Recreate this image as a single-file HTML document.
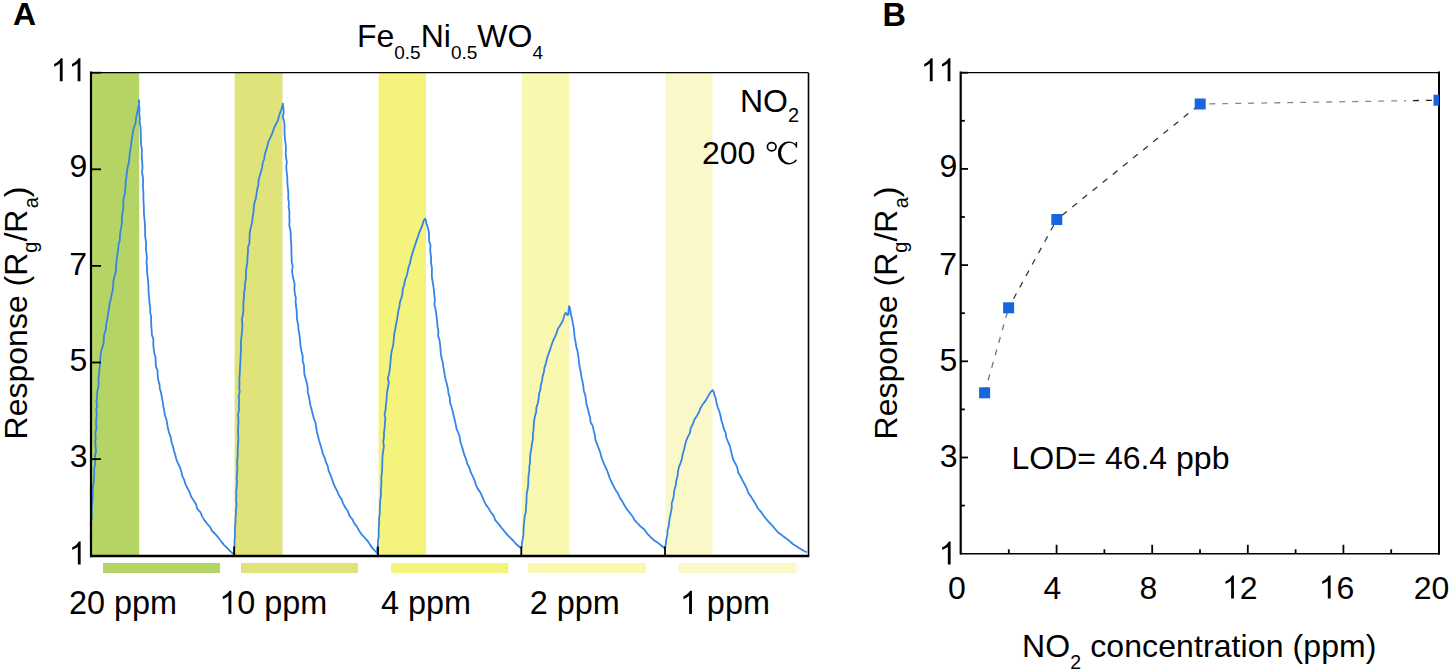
<!DOCTYPE html>
<html><head><meta charset="utf-8"><style>
html,body{margin:0;padding:0;background:#fff;width:1450px;height:672px;overflow:hidden}
svg{display:block;font-family:"Liberation Sans",sans-serif}
</style></head><body>
<svg width="1450" height="672" viewBox="0 0 1450 672">
<rect width="1450" height="672" fill="#fff"/>
<rect x="92.0" y="72.7" width="47.2" height="483.3" fill="#b4d565"/>
<rect x="234.6" y="72.7" width="47.9" height="483.3" fill="#e0e27a"/>
<rect x="378.6" y="72.7" width="47.4" height="483.3" fill="#f4f47c"/>
<rect x="521.8" y="72.7" width="47.5" height="483.3" fill="#f9f7b0"/>
<rect x="665.5" y="72.7" width="47.0" height="483.3" fill="#faf8c8"/>
<rect x="103.0" y="563" width="117.0" height="10" fill="#b4d565"/>
<rect x="241.0" y="563" width="117.0" height="10" fill="#e0e27a"/>
<rect x="391.0" y="563" width="117.4" height="10" fill="#f4f47c"/>
<rect x="528.2" y="563" width="117.4" height="10" fill="#f9f7b0"/>
<rect x="678.7" y="563" width="117.7" height="10" fill="#faf8c8"/>
<path d="M91.00 555.00 L91.18 553.51 L91.19 551.98 L90.92 550.48 L90.92 548.96 L90.93 547.44 L90.94 545.92 L90.95 544.41 L90.97 542.89 L90.99 541.38 L90.86 539.87 L90.74 538.35 L90.63 536.84 L90.72 535.33 L90.81 533.82 L90.91 532.31 L90.94 530.80 L90.97 529.29 L91.01 527.78 L90.87 526.27 L90.75 524.76 L90.62 523.24 L90.95 521.74 L91.29 520.25 L91.63 518.75 L91.66 517.25 L91.69 515.74 L91.72 514.23 L91.67 512.72 L91.63 511.21 L91.59 509.70 L91.73 508.19 L91.86 506.69 L92.00 505.19 L92.16 503.69 L92.32 502.19 L92.48 500.69 L92.51 499.18 L92.53 497.67 L92.56 496.17 L92.66 494.66 L92.77 493.16 L92.87 491.66 L92.86 490.14 L92.84 488.63 L92.82 487.12 L93.13 485.63 L93.44 484.14 L93.74 482.65 L93.80 481.14 L93.86 479.64 L93.92 478.13 L94.04 476.63 L94.15 475.12 L94.27 473.62 L94.19 472.10 L94.10 470.58 L94.02 469.07 L94.42 467.58 L94.83 466.09 L95.23 464.61 L95.17 463.09 L95.10 461.57 L95.03 460.06 L95.05 458.55 L95.07 457.04 L95.08 455.53 L95.39 454.03 L95.70 452.53 L96.00 451.03 L95.85 449.51 L95.70 447.99 L95.55 446.47 L95.46 444.96 L95.37 443.44 L95.28 441.92 L95.44 440.42 L95.59 438.91 L95.74 437.40 L95.60 435.88 L95.46 434.37 L95.31 432.85 L95.69 431.35 L96.07 429.84 L96.45 428.34 L96.34 426.83 L96.24 425.31 L96.14 423.79 L96.15 422.28 L96.16 420.77 L96.18 419.25 L96.41 417.75 L96.64 416.24 L96.87 414.74 L96.65 413.22 L96.43 411.70 L96.21 410.18 L96.48 408.67 L96.76 407.17 L97.04 405.67 L96.84 404.15 L96.65 402.63 L96.45 401.11 L96.66 399.60 L96.88 398.10 L97.09 396.60 L97.12 395.09 L97.15 393.57 L97.18 392.06 L97.53 390.57 L97.89 389.08 L98.26 387.59 L98.39 386.09 L98.53 384.59 L98.67 383.09 L98.57 381.57 L98.48 380.05 L98.40 378.53 L98.64 377.04 L98.89 375.55 L99.15 374.06 L99.19 372.55 L99.24 371.04 L99.30 369.53 L99.53 368.04 L99.77 366.55 L100.02 365.07 L100.07 363.56 L100.12 362.04 L100.18 360.53 L100.28 359.02 L100.39 357.52 L100.50 356.01 L100.70 354.51 L100.90 353.02 L101.11 351.53 L101.55 350.07 L101.99 348.61 L102.43 347.15 L102.85 345.69 L103.27 344.23 L103.69 342.77 L103.74 341.25 L103.79 339.73 L103.84 338.21 L104.02 336.71 L104.19 335.21 L104.37 333.71 L104.87 332.27 L105.37 330.82 L105.87 329.38 L105.97 327.87 L106.07 326.35 L106.17 324.84 L106.43 323.35 L106.69 321.86 L106.94 320.37 L107.23 318.89 L107.52 317.41 L107.80 315.93 L108.04 314.43 L108.28 312.94 L108.51 311.45 L108.77 309.96 L109.02 308.47 L109.28 306.99 L109.44 305.48 L109.60 303.98 L109.76 302.47 L110.22 301.02 L110.68 299.57 L111.14 298.12 L111.35 296.62 L111.55 295.12 L111.75 293.63 L112.14 292.16 L112.53 290.70 L112.91 289.23 L113.01 287.72 L113.11 286.20 L113.20 284.69 L113.30 283.18 L113.39 281.66 L113.47 280.15 L113.89 278.69 L114.30 277.23 L114.71 275.77 L115.11 274.30 L115.51 272.84 L115.91 271.37 L115.92 269.85 L115.93 268.33 L115.94 266.81 L116.10 265.31 L116.25 263.81 L116.41 262.31 L116.58 260.81 L116.75 259.31 L116.91 257.81 L117.12 256.32 L117.33 254.83 L117.53 253.33 L117.79 251.85 L118.06 250.36 L118.31 248.87 L118.41 247.37 L118.50 245.86 L118.59 244.35 L119.04 242.89 L119.48 241.42 L119.92 239.95 L119.92 238.43 L119.91 236.91 L119.91 235.40 L120.11 233.90 L120.32 232.41 L120.53 230.91 L120.83 229.43 L121.12 227.94 L121.42 226.46 L121.59 224.96 L121.76 223.46 L121.93 221.96 L121.92 220.44 L121.91 218.92 L121.91 217.41 L122.12 215.91 L122.34 214.42 L122.55 212.92 L122.75 211.43 L122.96 209.93 L123.16 208.43 L123.23 206.92 L123.30 205.41 L123.37 203.90 L123.37 202.38 L123.38 200.87 L123.38 199.35 L123.79 197.87 L124.20 196.40 L124.60 194.92 L124.80 193.43 L124.99 191.93 L125.18 190.43 L125.30 188.93 L125.42 187.42 L125.55 185.91 L125.59 184.40 L125.63 182.88 L125.68 181.37 L125.93 179.87 L126.18 178.38 L126.43 176.89 L126.57 175.39 L126.72 173.88 L126.87 172.38 L127.08 170.88 L127.30 169.38 L127.53 167.89 L127.88 166.41 L128.24 164.93 L128.59 163.46 L128.82 161.96 L129.05 160.47 L129.28 158.97 L129.40 157.46 L129.53 155.95 L129.66 154.44 L129.86 152.95 L130.07 151.45 L130.28 149.95 L130.52 148.45 L130.77 146.96 L131.01 145.47 L131.18 143.96 L131.35 142.45 L131.53 140.95 L131.77 139.45 L132.02 137.96 L132.27 136.47 L132.47 134.97 L132.67 133.48 L132.88 131.99 L133.21 130.53 L133.55 129.07 L133.89 127.62 L134.40 126.22 L134.92 124.82 L135.44 123.44 L135.61 121.99 L135.78 120.55 L135.96 119.12 L136.16 117.71 L136.36 116.31 L136.58 114.92 L136.90 113.57 L137.22 112.24 L137.52 110.91 L137.79 109.57 L138.04 108.25 L138.26 106.92 L138.61 105.62 L138.91 104.30 L139.18 102.97 L139.15 101.60 L139.00 100.10 L138.90 101.76 L139.05 103.25 L138.95 104.76 L139.16 106.24 L139.36 107.73 L139.56 109.22 L139.45 110.72 L139.35 112.23 L139.24 113.74 L139.45 115.22 L139.67 116.71 L139.88 118.20 L139.82 119.71 L139.75 121.21 L139.67 122.72 L139.97 124.20 L140.27 125.69 L140.57 127.17 L140.64 128.67 L140.70 130.17 L140.76 131.67 L140.78 133.17 L140.80 134.68 L140.82 136.18 L140.81 137.68 L140.81 139.19 L140.81 140.69 L140.93 142.19 L141.05 143.69 L141.17 145.18 L141.43 146.68 L141.67 148.17 L141.92 149.66 L141.85 151.17 L141.78 152.68 L141.70 154.19 L141.79 155.69 L141.87 157.20 L141.95 158.70 L142.06 160.20 L142.17 161.70 L142.28 163.20 L142.37 164.71 L142.45 166.21 L142.54 167.71 L142.36 169.23 L142.19 170.74 L142.01 172.26 L142.29 173.76 L142.56 175.25 L142.84 176.75 L142.94 178.25 L143.05 179.76 L143.16 181.26 L143.07 182.77 L142.98 184.29 L142.89 185.80 L143.01 187.30 L143.12 188.81 L143.23 190.31 L143.31 191.82 L143.39 193.33 L143.47 194.83 L143.45 196.34 L143.42 197.85 L143.40 199.36 L143.49 200.87 L143.58 202.38 L143.67 203.88 L143.74 205.39 L143.82 206.90 L143.89 208.41 L143.89 209.92 L143.90 211.43 L143.90 212.94 L144.03 214.44 L144.16 215.95 L144.29 217.45 L144.45 218.96 L144.60 220.46 L144.76 221.97 L144.80 223.48 L144.84 224.99 L144.88 226.50 L144.97 228.01 L145.05 229.51 L145.13 231.02 L145.13 232.53 L145.13 234.04 L145.12 235.56 L145.32 237.06 L145.52 238.56 L145.73 240.06 L145.87 241.57 L146.02 243.07 L146.17 244.58 L146.06 246.10 L145.94 247.61 L145.83 249.13 L146.05 250.63 L146.27 252.13 L146.49 253.63 L146.64 255.14 L146.78 256.64 L146.92 258.15 L146.78 259.67 L146.63 261.19 L146.48 262.71 L146.68 264.21 L146.88 265.71 L147.07 267.21 L147.04 268.73 L147.02 270.24 L146.99 271.76 L147.19 273.26 L147.38 274.76 L147.58 276.26 L147.74 277.76 L147.90 279.26 L148.06 280.77 L148.17 282.27 L148.29 283.78 L148.41 285.28 L148.44 286.79 L148.48 288.30 L148.51 289.81 L148.60 291.32 L148.69 292.83 L148.78 294.33 L148.95 295.83 L149.12 297.33 L149.30 298.83 L149.36 300.34 L149.43 301.85 L149.50 303.36 L149.75 304.85 L150.00 306.34 L150.26 307.84 L150.23 309.35 L150.21 310.87 L150.19 312.38 L150.51 313.87 L150.83 315.36 L151.15 316.84 L151.13 318.36 L151.12 319.87 L151.10 321.39 L151.16 322.90 L151.22 324.41 L151.29 325.92 L151.40 327.42 L151.52 328.93 L151.64 330.43 L151.74 331.94 L151.84 333.44 L151.94 334.95 L152.43 336.41 L152.93 337.87 L153.42 339.33 L153.37 340.86 L153.31 342.38 L153.26 343.91 L153.40 345.41 L153.54 346.91 L153.68 348.41 L153.89 349.90 L154.10 351.40 L154.32 352.89 L154.70 354.36 L155.09 355.83 L155.48 357.30 L155.55 358.81 L155.62 360.32 L155.70 361.83 L155.76 363.34 L155.83 364.86 L155.91 366.37 L156.46 367.81 L157.01 369.25 L157.57 370.69 L157.60 372.21 L157.63 373.73 L157.67 375.25 L157.84 376.75 L158.02 378.25 L158.20 379.75 L158.62 381.21 L159.04 382.66 L159.47 384.12 L159.60 385.63 L159.73 387.14 L159.86 388.64 L160.28 390.10 L160.71 391.55 L161.14 393.01 L161.39 394.50 L161.64 395.98 L161.89 397.47 L162.17 398.95 L162.45 400.43 L162.74 401.91 L162.93 403.41 L163.12 404.91 L163.32 406.41 L163.65 407.88 L163.98 409.36 L164.31 410.83 L164.52 412.33 L164.73 413.83 L164.95 415.33 L165.45 416.76 L165.96 418.20 L166.47 419.63 L166.72 421.12 L166.98 422.61 L167.24 424.10 L167.47 425.60 L167.71 427.10 L167.95 428.59 L168.35 430.06 L168.74 431.52 L169.14 432.97 L169.69 434.39 L170.24 435.81 L170.80 437.23 L170.99 438.74 L171.18 440.25 L171.38 441.76 L171.88 443.19 L172.39 444.62 L172.90 446.04 L173.23 447.52 L173.56 448.99 L173.90 450.46 L174.33 451.91 L174.77 453.35 L175.21 454.79 L175.57 456.26 L175.93 457.72 L176.30 459.19 L176.86 460.59 L177.43 461.99 L178.01 463.38 L178.67 464.74 L179.34 466.10 L180.02 467.45 L180.47 468.88 L180.93 470.31 L181.40 471.73 L181.72 473.21 L182.04 474.69 L182.38 476.17 L183.01 477.53 L183.65 478.89 L184.29 480.24 L184.73 481.68 L185.16 483.12 L185.61 484.55 L186.28 485.90 L186.95 487.24 L187.63 488.57 L188.33 489.89 L189.03 491.21 L189.75 492.52 L190.22 493.95 L190.69 495.38 L191.17 496.80 L192.00 498.06 L192.84 499.31 L193.68 500.56 L194.47 501.82 L195.27 503.08 L196.08 504.34 L196.43 505.84 L196.79 507.35 L197.16 508.85 L198.24 509.95 L199.33 511.04 L200.43 512.13 L200.97 513.53 L201.53 514.94 L202.10 516.34 L202.87 517.63 L203.65 518.90 L204.44 520.17 L205.34 521.38 L206.24 522.58 L207.15 523.77 L208.16 524.89 L209.17 526.01 L210.20 527.12 L210.87 528.48 L211.55 529.85 L212.25 531.21 L213.36 532.26 L214.49 533.29 L215.62 534.32 L216.57 535.49 L217.53 536.66 L218.49 537.82 L219.41 539.04 L220.33 540.25 L221.27 541.45 L222.21 542.66 L223.16 543.86 L224.13 545.06 L225.23 546.14 L226.34 547.21 L227.46 548.27 L228.52 549.40 L229.60 550.52 L230.69 551.63 L231.91 552.60 L233.14 553.58 L234.00 554.50 L233.94 552.93 L233.85 551.42 L234.01 549.93 L234.18 548.44 L234.35 546.94 L234.52 545.45 L234.51 543.94 L234.49 542.44 L234.48 540.94 L234.63 539.44 L234.78 537.94 L234.93 536.45 L234.90 534.94 L234.86 533.44 L234.82 531.93 L234.89 530.43 L234.95 528.93 L235.02 527.43 L235.14 525.93 L235.27 524.43 L235.40 522.93 L235.44 521.43 L235.47 519.92 L235.51 518.42 L235.65 516.92 L235.78 515.42 L235.92 513.92 L235.94 512.42 L235.95 510.91 L235.97 509.41 L236.18 507.91 L236.39 506.41 L236.60 504.91 L236.45 503.40 L236.31 501.89 L236.16 500.38 L236.21 498.87 L236.26 497.37 L236.31 495.87 L236.28 494.36 L236.25 492.85 L236.21 491.34 L236.37 489.84 L236.52 488.34 L236.67 486.84 L236.78 485.33 L236.89 483.83 L237.00 482.33 L236.91 480.82 L236.81 479.31 L236.71 477.80 L236.82 476.29 L236.93 474.79 L237.04 473.28 L237.16 471.78 L237.28 470.28 L237.40 468.77 L237.35 467.26 L237.31 465.75 L237.27 464.24 L237.27 462.74 L237.27 461.23 L237.27 459.72 L237.46 458.22 L237.65 456.71 L237.83 455.21 L237.78 453.70 L237.74 452.19 L237.69 450.68 L237.76 449.18 L237.82 447.67 L237.89 446.16 L238.01 444.66 L238.12 443.15 L238.24 441.64 L238.28 440.14 L238.31 438.63 L238.35 437.12 L238.24 435.61 L238.13 434.10 L238.02 432.59 L238.04 431.08 L238.06 429.57 L238.08 428.06 L238.20 426.55 L238.32 425.05 L238.44 423.54 L238.44 422.03 L238.44 420.52 L238.43 419.01 L238.30 417.50 L238.16 415.99 L238.03 414.48 L238.38 412.98 L238.74 411.48 L239.10 409.98 L239.02 408.47 L238.94 406.95 L238.85 405.44 L238.97 403.94 L239.08 402.43 L239.20 400.92 L239.05 399.41 L238.91 397.90 L238.76 396.38 L239.05 394.88 L239.34 393.38 L239.64 391.88 L239.50 390.37 L239.36 388.85 L239.22 387.34 L239.32 385.83 L239.41 384.33 L239.51 382.82 L239.43 381.31 L239.36 379.80 L239.28 378.28 L239.46 376.78 L239.63 375.28 L239.81 373.77 L239.86 372.27 L239.91 370.76 L239.96 369.25 L240.02 367.74 L240.08 366.24 L240.15 364.73 L240.27 363.23 L240.39 361.72 L240.52 360.22 L240.54 358.71 L240.57 357.20 L240.59 355.69 L240.75 354.19 L240.91 352.69 L241.06 351.19 L240.99 349.67 L240.91 348.16 L240.84 346.65 L240.86 345.14 L240.88 343.63 L240.90 342.12 L241.07 340.62 L241.24 339.12 L241.42 337.62 L241.56 336.12 L241.70 334.62 L241.85 333.11 L241.99 331.61 L242.13 330.11 L242.28 328.61 L242.32 327.10 L242.36 325.60 L242.40 324.09 L242.24 322.57 L242.07 321.05 L241.90 319.53 L242.21 318.04 L242.51 316.55 L242.82 315.06 L243.03 313.56 L243.23 312.07 L243.44 310.57 L243.40 309.06 L243.36 307.55 L243.33 306.03 L243.37 304.53 L243.42 303.02 L243.47 301.51 L243.67 300.02 L243.86 298.52 L244.05 297.03 L244.09 295.52 L244.12 294.01 L244.16 292.50 L244.39 291.01 L244.62 289.52 L244.86 288.03 L244.92 286.52 L244.98 285.02 L245.04 283.51 L245.31 282.02 L245.58 280.54 L245.85 279.05 L245.90 277.54 L245.94 276.04 L245.99 274.53 L246.01 273.02 L246.03 271.51 L246.05 270.00 L246.33 268.51 L246.60 267.03 L246.89 265.55 L247.07 264.05 L247.25 262.56 L247.44 261.06 L247.45 259.55 L247.46 258.04 L247.47 256.53 L247.64 255.03 L247.82 253.54 L248.00 252.04 L247.98 250.53 L247.97 249.01 L247.95 247.49 L248.45 246.04 L248.94 244.58 L249.44 243.12 L249.47 241.61 L249.51 240.10 L249.54 238.59 L249.58 237.07 L249.62 235.56 L249.66 234.05 L249.89 232.56 L250.12 231.07 L250.35 229.58 L250.71 228.11 L251.06 226.64 L251.42 225.17 L251.73 223.69 L252.03 222.22 L252.34 220.74 L252.47 219.24 L252.61 217.74 L252.74 216.24 L253.02 214.76 L253.30 213.28 L253.58 211.80 L253.66 210.28 L253.74 208.77 L253.81 207.26 L254.03 205.77 L254.24 204.28 L254.46 202.79 L254.93 201.34 L255.40 199.89 L255.87 198.44 L256.08 196.95 L256.30 195.46 L256.52 193.96 L256.72 192.47 L256.94 190.98 L257.15 189.49 L257.55 188.03 L257.95 186.57 L258.36 185.11 L258.42 183.59 L258.48 182.07 L258.55 180.54 L258.89 179.07 L259.24 177.61 L259.60 176.14 L260.04 174.69 L260.50 173.25 L260.95 171.81 L261.36 170.36 L261.76 168.91 L262.18 167.46 L262.34 165.96 L262.51 164.45 L262.69 162.95 L263.21 161.53 L263.74 160.11 L264.28 158.70 L264.45 157.19 L264.62 155.68 L264.80 154.17 L265.30 152.75 L265.81 151.33 L266.32 149.92 L266.71 148.47 L267.11 147.02 L267.52 145.57 L267.85 144.10 L268.19 142.63 L268.55 141.16 L269.22 139.80 L269.90 138.44 L270.59 137.10 L271.18 135.71 L271.79 134.33 L272.40 132.96 L272.87 131.53 L273.35 130.09 L273.84 128.66 L274.44 127.28 L275.06 125.91 L275.68 124.53 L276.42 123.21 L277.16 121.90 L277.90 120.58 L278.25 119.09 L278.59 117.61 L278.90 116.14 L279.42 114.75 L279.91 113.36 L280.37 111.97 L280.91 110.61 L281.41 109.25 L281.88 107.87 L282.17 106.45 L282.72 105.08 L282.90 103.60 L282.96 105.23 L283.20 106.71 L283.42 108.20 L283.50 109.70 L283.57 111.20 L283.64 112.69 L283.39 114.21 L283.14 115.73 L282.89 117.25 L283.33 118.73 L283.77 120.20 L284.21 121.68 L284.32 123.18 L284.43 124.67 L284.53 126.17 L284.52 127.68 L284.50 129.18 L284.48 130.69 L284.54 132.19 L284.59 133.69 L284.65 135.20 L284.78 136.69 L284.90 138.19 L285.03 139.69 L285.23 141.18 L285.43 142.68 L285.63 144.17 L285.73 145.68 L285.84 147.18 L285.95 148.68 L285.86 150.19 L285.77 151.70 L285.67 153.21 L285.82 154.71 L285.97 156.21 L286.11 157.71 L286.35 159.21 L286.59 160.70 L286.83 162.20 L286.63 163.72 L286.43 165.23 L286.23 166.75 L286.35 168.26 L286.47 169.76 L286.59 171.26 L286.77 172.76 L286.95 174.26 L287.13 175.76 L287.21 177.26 L287.29 178.77 L287.37 180.27 L287.40 181.78 L287.43 183.29 L287.47 184.80 L287.64 186.30 L287.81 187.80 L287.98 189.30 L288.13 190.81 L288.27 192.31 L288.42 193.81 L288.33 195.33 L288.25 196.84 L288.16 198.36 L288.42 199.85 L288.68 201.35 L288.94 202.85 L288.84 204.37 L288.74 205.88 L288.64 207.40 L288.90 208.90 L289.17 210.39 L289.44 211.89 L289.39 213.40 L289.34 214.92 L289.29 216.43 L289.38 217.94 L289.47 219.45 L289.56 220.95 L289.46 222.47 L289.36 223.99 L289.25 225.51 L289.63 227.00 L290.00 228.49 L290.38 229.98 L290.51 231.49 L290.63 232.99 L290.76 234.50 L290.78 236.01 L290.80 237.52 L290.82 239.03 L290.96 240.54 L291.10 242.04 L291.25 243.55 L291.30 245.06 L291.34 246.57 L291.39 248.08 L291.39 249.59 L291.39 251.11 L291.40 252.62 L291.47 254.13 L291.54 255.64 L291.61 257.15 L291.63 258.66 L291.65 260.17 L291.67 261.69 L292.02 263.18 L292.37 264.67 L292.72 266.15 L292.50 267.69 L292.28 269.22 L292.06 270.75 L292.24 272.25 L292.43 273.75 L292.61 275.26 L292.95 276.74 L293.29 278.23 L293.63 279.72 L293.97 281.21 L294.30 282.70 L294.64 284.18 L294.55 285.71 L294.46 287.23 L294.37 288.75 L294.49 290.26 L294.61 291.77 L294.73 293.27 L295.11 294.75 L295.48 296.24 L295.86 297.72 L295.77 299.24 L295.68 300.77 L295.59 302.30 L295.76 303.80 L295.94 305.30 L296.12 306.80 L296.33 308.29 L296.54 309.79 L296.76 311.29 L296.78 312.80 L296.79 314.32 L296.82 315.84 L296.94 317.34 L297.07 318.85 L297.20 320.35 L297.52 321.84 L297.84 323.32 L298.16 324.81 L298.26 326.31 L298.37 327.82 L298.47 329.33 L298.74 330.82 L299.01 332.31 L299.29 333.80 L299.49 335.29 L299.69 336.79 L299.89 338.29 L300.00 339.80 L300.11 341.30 L300.22 342.81 L300.38 344.32 L300.53 345.82 L300.69 347.32 L301.01 348.81 L301.32 350.29 L301.64 351.77 L302.02 353.24 L302.40 354.71 L302.78 356.18 L302.72 357.72 L302.66 359.25 L302.61 360.79 L303.05 362.25 L303.50 363.71 L303.95 365.17 L304.01 366.69 L304.08 368.21 L304.15 369.73 L304.23 371.24 L304.31 372.76 L304.39 374.28 L304.82 375.74 L305.25 377.21 L305.68 378.67 L306.05 380.14 L306.43 381.60 L306.80 383.07 L307.10 384.56 L307.39 386.04 L307.69 387.52 L307.70 389.06 L307.72 390.59 L307.74 392.13 L308.14 393.59 L308.54 395.06 L308.95 396.52 L309.18 398.02 L309.42 399.51 L309.66 401.01 L309.93 402.50 L310.19 403.99 L310.46 405.48 L310.86 406.94 L311.27 408.40 L311.69 409.86 L312.03 411.34 L312.38 412.81 L312.73 414.28 L313.13 415.74 L313.52 417.20 L313.92 418.66 L314.47 420.09 L315.03 421.51 L315.59 422.93 L315.79 424.43 L315.99 425.93 L316.20 427.43 L316.43 428.93 L316.66 430.43 L316.90 431.93 L317.29 433.39 L317.68 434.84 L318.08 436.30 L318.42 437.77 L318.76 439.24 L319.11 440.71 L319.57 442.14 L320.04 443.58 L320.50 445.01 L320.90 446.46 L321.30 447.92 L321.71 449.37 L322.09 450.82 L322.47 452.28 L322.86 453.73 L323.47 455.12 L324.09 456.50 L324.72 457.87 L325.13 459.32 L325.55 460.76 L325.97 462.20 L326.59 463.57 L327.20 464.95 L327.83 466.31 L328.09 467.81 L328.36 469.31 L328.63 470.80 L329.24 472.18 L329.86 473.55 L330.48 474.91 L330.98 476.32 L331.49 477.73 L332.00 479.14 L332.47 480.57 L332.94 481.99 L333.41 483.41 L334.04 484.78 L334.67 486.14 L335.31 487.49 L336.01 488.81 L336.72 490.13 L337.44 491.45 L337.99 492.84 L338.54 494.23 L339.10 495.62 L339.94 496.88 L340.79 498.13 L341.65 499.37 L342.15 500.79 L342.65 502.21 L343.17 503.62 L343.88 504.94 L344.60 506.25 L345.33 507.55 L346.20 508.78 L347.07 510.01 L347.95 511.23 L348.42 512.68 L348.91 514.13 L349.40 515.57 L350.34 516.76 L351.28 517.95 L352.23 519.12 L352.89 520.47 L353.57 521.82 L354.25 523.17 L355.15 524.38 L356.06 525.58 L356.98 526.78 L357.69 528.11 L358.42 529.44 L359.15 530.76 L359.99 532.02 L360.83 533.28 L361.69 534.53 L362.75 535.63 L363.82 536.73 L364.89 537.82 L365.86 538.98 L366.84 540.15 L367.83 541.30 L368.66 542.58 L369.50 543.86 L370.35 545.14 L371.25 546.38 L372.15 547.62 L373.07 548.86 L374.16 549.95 L375.26 551.03 L376.37 552.10 L377.32 553.33 L377.80 554.40 L377.69 552.78 L377.28 551.26 L377.04 549.75 L377.34 548.27 L377.63 546.79 L377.93 545.31 L377.94 543.81 L377.95 542.31 L377.96 540.81 L378.21 539.33 L378.46 537.84 L378.71 536.35 L378.68 534.85 L378.66 533.35 L378.63 531.85 L378.67 530.35 L378.71 528.85 L378.75 527.35 L378.90 525.85 L379.06 524.36 L379.21 522.86 L379.17 521.36 L379.14 519.85 L379.10 518.34 L379.32 516.85 L379.54 515.36 L379.76 513.86 L379.76 512.36 L379.77 510.85 L379.78 509.34 L379.88 507.84 L379.98 506.34 L380.09 504.84 L380.13 503.33 L380.17 501.83 L380.20 500.32 L380.44 498.82 L380.68 497.33 L380.91 495.83 L380.88 494.32 L380.85 492.81 L380.82 491.30 L380.96 489.80 L381.10 488.29 L381.24 486.79 L381.30 485.28 L381.37 483.77 L381.44 482.27 L381.39 480.75 L381.34 479.24 L381.29 477.73 L381.50 476.22 L381.71 474.72 L381.93 473.22 L381.98 471.71 L382.04 470.20 L382.10 468.69 L382.17 467.19 L382.25 465.68 L382.32 464.17 L382.33 462.66 L382.35 461.14 L382.36 459.63 L382.44 458.12 L382.52 456.61 L382.60 455.10 L382.81 453.60 L383.01 452.10 L383.22 450.60 L383.45 449.10 L383.68 447.59 L383.91 446.09 L383.70 444.57 L383.49 443.04 L383.28 441.51 L383.51 440.01 L383.74 438.51 L383.97 437.01 L383.98 435.50 L383.99 433.98 L384.00 432.47 L384.22 430.97 L384.43 429.47 L384.65 427.97 L384.72 426.45 L384.79 424.94 L384.86 423.43 L385.03 421.93 L385.21 420.43 L385.38 418.92 L385.11 417.39 L384.84 415.85 L384.57 414.31 L384.90 412.82 L385.24 411.33 L385.58 409.84 L385.66 408.33 L385.75 406.82 L385.84 405.31 L386.05 403.82 L386.27 402.32 L386.48 400.82 L386.55 399.31 L386.63 397.80 L386.70 396.29 L386.85 394.78 L386.99 393.28 L387.14 391.78 L387.42 390.29 L387.70 388.80 L387.97 387.31 L388.24 385.82 L388.52 384.33 L388.79 382.84 L388.48 381.29 L388.16 379.74 L387.85 378.19 L388.26 376.71 L388.68 375.24 L389.09 373.76 L389.32 372.27 L389.55 370.78 L389.79 369.29 L389.93 367.79 L390.08 366.29 L390.23 364.78 L390.38 363.28 L390.53 361.78 L390.68 360.28 L390.77 358.77 L390.86 357.26 L390.95 355.76 L391.19 354.27 L391.43 352.78 L391.67 351.29 L392.04 349.82 L392.41 348.35 L392.79 346.88 L393.04 345.39 L393.29 343.91 L393.54 342.42 L393.66 340.92 L393.79 339.42 L393.92 337.91 L394.06 336.41 L394.20 334.91 L394.34 333.41 L394.67 331.94 L395.00 330.46 L395.34 328.99 L395.55 327.50 L395.77 326.02 L395.99 324.53 L396.32 323.06 L396.66 321.59 L397.00 320.12 L397.22 318.63 L397.45 317.15 L397.68 315.66 L397.88 314.17 L398.09 312.67 L398.29 311.18 L398.66 309.72 L399.03 308.26 L399.40 306.80 L399.56 305.30 L399.72 303.80 L399.89 302.30 L400.39 300.87 L400.90 299.43 L401.41 298.01 L401.76 296.54 L402.11 295.08 L402.47 293.62 L402.57 292.11 L402.67 290.59 L402.77 289.07 L403.27 287.64 L403.76 286.21 L404.27 284.78 L404.48 283.29 L404.69 281.79 L404.91 280.30 L405.48 278.89 L406.04 277.48 L406.61 276.07 L406.97 274.61 L407.33 273.15 L407.69 271.69 L407.97 270.21 L408.24 268.72 L408.53 267.24 L409.04 265.82 L409.56 264.40 L410.09 262.99 L410.36 261.50 L410.63 260.01 L410.92 258.52 L411.32 257.07 L411.72 255.62 L412.13 254.17 L412.58 252.73 L413.02 251.29 L413.48 249.85 L413.96 248.42 L414.46 246.99 L414.96 245.57 L415.40 244.12 L415.85 242.68 L416.30 241.24 L416.83 239.82 L417.35 238.40 L417.88 236.99 L418.30 235.53 L418.72 234.08 L419.15 232.62 L419.78 231.24 L420.42 229.86 L421.06 228.48 L421.60 227.07 L422.15 225.65 L422.70 224.24 L423.09 222.77 L423.49 221.30 L424.03 219.88 L425.10 218.80 L425.90 220.21 L426.02 221.74 L426.36 223.20 L426.84 224.63 L427.29 226.07 L427.72 227.51 L428.11 228.96 L428.49 230.42 L428.84 231.88 L428.91 233.39 L428.96 234.90 L429.00 236.40 L429.05 237.90 L429.09 239.40 L429.11 240.90 L429.59 242.36 L430.06 243.83 L430.52 245.30 L430.40 246.82 L430.28 248.34 L430.15 249.86 L430.33 251.35 L430.51 252.85 L430.69 254.35 L430.85 255.85 L431.00 257.35 L431.16 258.85 L431.13 260.37 L431.11 261.89 L431.08 263.40 L431.37 264.90 L431.66 266.39 L431.96 267.89 L431.92 269.41 L431.87 270.93 L431.84 272.46 L431.86 273.97 L431.88 275.49 L431.90 277.01 L432.14 278.51 L432.38 280.01 L432.62 281.51 L432.86 283.02 L433.10 284.52 L433.34 286.02 L433.57 287.52 L433.79 289.02 L434.02 290.52 L434.12 292.03 L434.21 293.55 L434.31 295.06 L434.51 296.56 L434.72 298.06 L434.92 299.56 L434.74 301.10 L434.55 302.64 L434.36 304.18 L434.71 305.67 L435.05 307.15 L435.40 308.64 L435.64 310.13 L435.89 311.62 L436.14 313.11 L436.34 314.61 L436.53 316.11 L436.74 317.60 L436.89 319.10 L437.05 320.61 L437.21 322.11 L437.32 323.61 L437.43 325.12 L437.55 326.62 L437.83 328.10 L438.12 329.59 L438.41 331.07 L438.31 332.60 L438.22 334.13 L438.13 335.66 L438.57 337.12 L439.02 338.58 L439.47 340.04 L439.68 341.53 L439.90 343.02 L440.12 344.51 L440.23 346.01 L440.35 347.52 L440.46 349.02 L440.58 350.53 L440.69 352.03 L440.81 353.54 L441.06 355.02 L441.31 356.51 L441.56 357.99 L441.98 359.45 L442.40 360.90 L442.83 362.36 L443.00 363.85 L443.18 365.35 L443.36 366.84 L443.63 368.32 L443.90 369.81 L444.18 371.29 L444.41 372.77 L444.64 374.26 L444.87 375.75 L445.17 377.23 L445.48 378.70 L445.79 380.18 L446.19 381.63 L446.59 383.09 L447.00 384.55 L447.32 386.02 L447.65 387.49 L447.97 388.96 L448.13 390.47 L448.30 391.97 L448.46 393.48 L448.91 394.93 L449.35 396.38 L449.80 397.82 L449.87 399.35 L449.95 400.88 L450.02 402.42 L450.48 403.86 L450.94 405.31 L451.41 406.76 L451.85 408.21 L452.29 409.66 L452.74 411.11 L453.02 412.60 L453.30 414.09 L453.59 415.58 L453.97 417.05 L454.35 418.52 L454.73 419.99 L455.06 421.47 L455.39 422.95 L455.73 424.43 L456.01 425.93 L456.29 427.43 L456.57 428.93 L457.19 430.34 L457.82 431.74 L458.45 433.15 L458.90 434.60 L459.34 436.05 L459.80 437.50 L460.00 439.03 L460.21 440.55 L460.43 442.07 L460.91 443.51 L461.40 444.95 L461.89 446.39 L462.31 447.86 L462.73 449.32 L463.15 450.78 L463.59 452.23 L464.03 453.69 L464.48 455.14 L465.02 456.56 L465.57 457.98 L466.12 459.39 L466.53 460.85 L466.94 462.32 L467.36 463.78 L468.04 465.14 L468.72 466.51 L469.41 467.86 L469.86 469.31 L470.31 470.76 L470.77 472.20 L471.41 473.57 L472.06 474.94 L472.71 476.30 L473.32 477.68 L473.93 479.06 L474.55 480.43 L474.99 481.88 L475.44 483.33 L475.90 484.77 L476.53 486.14 L477.17 487.51 L477.81 488.87 L478.69 490.12 L479.57 491.36 L480.46 492.59 L481.05 493.97 L481.66 495.34 L482.28 496.71 L482.85 498.10 L483.43 499.49 L484.02 500.87 L484.68 502.23 L485.34 503.57 L486.02 504.91 L486.92 506.12 L487.83 507.33 L488.75 508.52 L489.49 509.83 L490.24 511.12 L491.00 512.42 L491.91 513.61 L492.83 514.80 L493.76 515.98 L494.27 517.44 L494.80 518.90 L495.34 520.36 L496.37 521.47 L497.42 522.57 L498.47 523.66 L499.34 524.89 L500.22 526.11 L501.11 527.33 L502.06 528.50 L503.03 529.66 L504.00 530.81 L504.95 531.99 L505.90 533.17 L506.87 534.33 L507.90 535.45 L508.94 536.56 L509.98 537.66 L511.09 538.72 L512.20 539.76 L513.33 540.79 L514.32 541.96 L515.33 543.12 L516.35 544.27 L517.50 545.29 L518.67 546.30 L519.86 547.28 L521.30 547.80 L521.77 546.30 L521.75 544.78 L521.94 543.28 L522.22 541.79 L522.50 540.30 L522.78 538.81 L523.00 537.32 L523.22 535.82 L523.44 534.32 L523.48 532.81 L523.52 531.29 L523.56 529.77 L523.62 528.26 L523.69 526.74 L523.75 525.23 L523.96 523.73 L524.16 522.23 L524.36 520.73 L524.47 519.21 L524.57 517.70 L524.68 516.19 L525.06 514.70 L525.44 513.22 L525.82 511.73 L525.85 510.21 L525.89 508.69 L525.93 507.17 L526.11 505.67 L526.28 504.16 L526.45 502.65 L526.49 501.13 L526.54 499.61 L526.58 498.09 L526.63 496.57 L526.68 495.06 L526.73 493.54 L527.04 492.04 L527.35 490.54 L527.66 489.05 L527.84 487.54 L528.03 486.03 L528.21 484.53 L528.24 483.00 L528.28 481.48 L528.31 479.96 L528.39 478.44 L528.47 476.93 L528.55 475.41 L528.81 473.91 L529.06 472.41 L529.31 470.91 L529.31 469.38 L529.32 467.86 L529.32 466.33 L529.58 464.83 L529.85 463.33 L530.11 461.83 L530.12 460.31 L530.12 458.78 L530.13 457.26 L530.26 455.74 L530.40 454.23 L530.53 452.72 L530.85 451.23 L531.17 449.73 L531.48 448.24 L531.63 446.73 L531.78 445.22 L531.93 443.71 L532.26 442.22 L532.59 440.73 L532.92 439.25 L532.89 437.72 L532.85 436.18 L532.82 434.65 L533.04 433.15 L533.26 431.65 L533.48 430.15 L533.56 428.63 L533.65 427.11 L533.73 425.59 L533.86 424.08 L534.00 422.57 L534.14 421.06 L534.36 419.56 L534.58 418.06 L534.81 416.56 L535.25 415.09 L535.70 413.63 L536.15 412.16 L536.22 410.64 L536.29 409.12 L536.37 407.60 L536.84 406.14 L537.31 404.68 L537.79 403.23 L538.07 401.74 L538.36 400.25 L538.65 398.77 L538.74 397.25 L538.85 395.73 L538.95 394.21 L539.42 392.76 L539.89 391.31 L540.36 389.86 L540.51 388.34 L540.67 386.83 L540.82 385.32 L541.21 383.86 L541.61 382.39 L542.01 380.93 L542.19 379.42 L542.38 377.91 L542.57 376.41 L543.02 374.95 L543.47 373.51 L543.93 372.06 L544.10 370.54 L544.27 369.03 L544.45 367.51 L544.97 366.08 L545.50 364.65 L546.04 363.23 L546.33 361.74 L546.63 360.25 L546.94 358.76 L547.39 357.32 L547.85 355.87 L548.32 354.43 L548.85 353.01 L549.38 351.59 L549.92 350.17 L550.36 348.72 L550.81 347.27 L551.27 345.82 L551.76 344.39 L552.27 342.95 L552.79 341.52 L553.41 340.13 L554.06 338.75 L554.71 337.37 L555.31 335.97 L555.92 334.57 L556.55 333.18 L556.98 331.70 L557.44 330.21 L557.91 328.73 L558.76 327.43 L559.63 326.14 L560.52 324.86 L561.26 323.50 L562.00 322.13 L562.73 320.74 L563.27 319.25 L563.72 317.71 L564.08 316.15 L564.62 314.78 L565.10 313.69 L565.55 313.08 L565.85 312.86 L566.40 313.24 L566.95 313.87 L567.10 314.64 L567.44 315.15 L568.22 314.78 L568.49 313.28 L568.62 310.55 L569.00 306.20 L569.86 307.74 L570.03 309.21 L570.42 310.64 L570.61 312.11 L570.79 313.59 L570.98 315.06 L571.39 316.49 L571.81 317.93 L572.23 319.37 L572.43 320.84 L572.63 322.32 L572.83 323.80 L573.16 325.26 L573.49 326.72 L573.82 328.18 L573.95 329.67 L574.08 331.17 L574.21 332.66 L574.33 334.16 L574.45 335.66 L574.57 337.16 L574.90 338.63 L575.22 340.10 L575.55 341.57 L575.72 343.07 L575.90 344.56 L576.08 346.06 L576.52 347.51 L576.95 348.97 L577.38 350.43 L577.62 351.92 L577.85 353.41 L578.08 354.90 L578.29 356.40 L578.50 357.89 L578.71 359.39 L578.86 360.90 L579.01 362.41 L579.16 363.92 L579.44 365.41 L579.71 366.90 L579.99 368.39 L580.29 369.87 L580.59 371.36 L580.89 372.85 L581.09 374.35 L581.29 375.85 L581.50 377.36 L581.85 378.84 L582.20 380.32 L582.55 381.80 L582.81 383.29 L583.08 384.79 L583.35 386.28 L583.50 387.80 L583.66 389.31 L583.82 390.83 L584.30 392.29 L584.78 393.74 L585.26 395.19 L585.49 396.70 L585.72 398.20 L585.95 399.71 L586.12 401.22 L586.30 402.74 L586.48 404.26 L586.95 405.71 L587.42 407.16 L587.90 408.62 L588.17 410.11 L588.45 411.61 L588.73 413.10 L589.20 414.55 L589.68 416.00 L590.16 417.45 L590.27 418.99 L590.38 420.53 L590.50 422.06 L591.27 423.44 L592.06 424.80 L592.84 426.17 L593.12 427.66 L593.40 429.16 L593.69 430.65 L594.08 432.12 L594.47 433.59 L594.87 435.05 L595.03 436.58 L595.19 438.12 L595.36 439.65 L595.91 441.07 L596.47 442.49 L597.03 443.91 L597.54 445.34 L598.05 446.77 L598.57 448.19 L599.13 449.61 L599.70 451.01 L600.28 452.42 L600.61 453.90 L600.94 455.39 L601.28 456.87 L601.81 458.29 L602.35 459.71 L602.89 461.12 L603.49 462.51 L604.10 463.89 L604.71 465.28 L605.33 466.65 L605.96 468.02 L606.59 469.39 L607.13 470.80 L607.67 472.20 L608.22 473.60 L608.69 475.04 L609.17 476.47 L609.66 477.90 L610.27 479.27 L610.88 480.64 L611.51 482.00 L612.17 483.35 L612.84 484.69 L613.53 486.03 L614.22 487.36 L614.91 488.68 L615.62 490.00 L616.46 491.25 L617.31 492.49 L618.16 493.73 L618.72 495.12 L619.30 496.51 L619.88 497.89 L620.73 499.13 L621.58 500.36 L622.45 501.58 L623.14 502.90 L623.84 504.22 L624.55 505.54 L625.33 506.82 L626.12 508.09 L626.92 509.35 L627.86 510.52 L628.81 511.67 L629.77 512.82 L630.67 514.01 L631.59 515.19 L632.51 516.36 L633.26 517.67 L634.03 518.98 L634.81 520.28 L635.80 521.40 L636.81 522.52 L637.83 523.63 L638.89 524.71 L639.95 525.77 L641.03 526.83 L642.22 527.78 L643.42 528.72 L644.63 529.65 L645.46 530.94 L646.32 532.23 L647.19 533.51 L648.23 534.62 L649.29 535.72 L650.36 536.82 L651.46 537.89 L652.58 538.95 L653.70 540.01 L655.00 540.88 L656.30 541.74 L657.61 542.59 L658.82 543.56 L660.04 544.53 L661.27 545.49 L662.51 546.45 L663.68 547.53 L664.80 548.20 L665.41 546.71 L665.52 545.21 L665.86 543.75 L666.02 542.25 L666.17 540.75 L666.33 539.25 L666.68 537.78 L667.03 536.31 L667.38 534.84 L667.42 533.32 L667.47 531.80 L667.52 530.27 L667.94 528.80 L668.36 527.34 L668.78 525.86 L668.92 524.35 L669.06 522.84 L669.20 521.32 L669.46 519.82 L669.72 518.32 L669.97 516.82 L670.28 515.33 L670.59 513.83 L670.89 512.34 L671.19 510.84 L671.49 509.35 L671.79 507.85 L671.75 506.30 L671.71 504.74 L671.68 503.19 L672.19 501.73 L672.71 500.27 L673.23 498.80 L673.44 497.29 L673.65 495.78 L673.87 494.27 L674.05 492.75 L674.23 491.23 L674.42 489.71 L674.87 488.24 L675.31 486.77 L675.76 485.30 L675.93 483.78 L676.10 482.26 L676.28 480.74 L676.69 479.27 L677.11 477.80 L677.53 476.33 L677.66 474.80 L677.80 473.27 L677.94 471.74 L678.25 470.25 L678.56 468.75 L678.88 467.27 L679.43 465.83 L679.99 464.40 L680.56 462.98 L681.02 461.53 L681.49 460.08 L681.96 458.64 L682.20 457.14 L682.45 455.64 L682.71 454.13 L683.15 452.68 L683.59 451.24 L684.04 449.79 L684.35 448.30 L684.66 446.82 L684.98 445.33 L685.36 443.86 L685.75 442.40 L686.15 440.93 L686.74 439.54 L687.34 438.14 L687.95 436.76 L688.63 435.40 L689.31 434.04 L690.01 432.69 L690.23 431.16 L690.48 429.63 L690.73 428.11 L691.43 426.76 L692.14 425.41 L692.86 424.08 L693.34 422.64 L693.82 421.20 L694.32 419.76 L695.15 418.47 L695.98 417.19 L696.82 415.92 L697.56 414.60 L698.31 413.28 L699.08 411.97 L699.60 410.53 L700.13 409.09 L700.68 407.66 L701.50 406.37 L702.33 405.09 L703.18 403.82 L704.11 402.60 L705.05 401.38 L706.01 400.18 L706.71 398.81 L707.43 397.45 L708.16 396.09 L708.94 394.75 L709.72 393.42 L710.52 392.09 L711.73 391.05 L712.60 390.10 L713.59 391.43 L714.04 392.85 L714.18 394.36 L714.74 395.76 L715.29 397.16 L715.84 398.56 L716.07 400.05 L716.30 401.54 L716.52 403.04 L716.94 404.48 L717.36 405.93 L717.77 407.37 L718.32 408.78 L718.86 410.20 L719.41 411.61 L719.79 413.07 L720.18 414.53 L720.56 415.99 L720.84 417.48 L721.11 418.97 L721.39 420.46 L721.86 421.90 L722.32 423.34 L722.79 424.78 L723.19 426.25 L723.59 427.71 L724.00 429.17 L724.60 430.57 L725.20 431.97 L725.81 433.37 L725.99 434.90 L726.18 436.42 L726.37 437.95 L726.98 439.35 L727.60 440.75 L728.21 442.15 L728.80 443.55 L729.39 444.96 L729.98 446.36 L730.29 447.85 L730.61 449.34 L730.93 450.83 L731.32 452.30 L731.71 453.77 L732.11 455.24 L732.45 456.73 L732.81 458.22 L733.17 459.70 L733.92 461.04 L734.69 462.38 L735.46 463.71 L736.09 465.09 L736.73 466.47 L737.38 467.84 L737.63 469.38 L737.90 470.91 L738.17 472.45 L738.94 473.77 L739.73 475.09 L740.53 476.40 L741.19 477.76 L741.86 479.13 L742.54 480.49 L743.27 481.82 L744.00 483.15 L744.74 484.48 L745.41 485.84 L746.09 487.19 L746.79 488.54 L747.27 489.99 L747.77 491.45 L748.29 492.90 L749.18 494.14 L750.08 495.37 L750.99 496.59 L751.78 497.88 L752.58 499.17 L753.39 500.44 L754.18 501.73 L754.98 503.00 L755.80 504.27 L756.45 505.65 L757.12 507.02 L757.80 508.38 L758.84 509.50 L759.89 510.61 L760.94 511.70 L761.74 512.99 L762.54 514.26 L763.36 515.53 L764.32 516.70 L765.28 517.85 L766.26 519.00 L767.22 520.15 L768.19 521.30 L769.17 522.44 L770.25 523.49 L771.33 524.53 L772.43 525.56 L773.34 526.76 L774.27 527.95 L775.21 529.13 L776.20 530.27 L777.21 531.39 L778.23 532.50 L779.45 533.41 L780.67 534.31 L781.90 535.19 L783.09 536.12 L784.29 537.03 L785.50 537.93 L786.69 538.85 L787.89 539.77 L789.10 540.66 L790.22 541.70 L791.35 542.72 L792.49 543.73 L793.76 544.56 L795.04 545.39 L796.34 546.20 L797.61 547.04 L798.90 547.88 L800.19 548.69 L801.51 549.49 L802.84 550.28 L804.18 551.05 L805.54 551.79 L806.90 551.90" fill="none" stroke="#3584e8" stroke-width="1.8" stroke-linejoin="round"/>
<line x1="234.2" y1="546.5" x2="234.2" y2="556" stroke="#000" stroke-width="1.8"/>
<line x1="378.0" y1="546.5" x2="378.0" y2="556" stroke="#000" stroke-width="1.8"/>
<line x1="521.3" y1="546.5" x2="521.3" y2="556" stroke="#000" stroke-width="1.8"/>
<line x1="665.0" y1="546.5" x2="665.0" y2="556" stroke="#000" stroke-width="1.8"/>
<line x1="91" y1="72.7" x2="808.5" y2="72.7" stroke="#000" stroke-width="1.3"/>
<line x1="808.5" y1="72.7" x2="808.5" y2="556" stroke="#000" stroke-width="1.6"/>
<line x1="91" y1="71.5" x2="91" y2="557.2" stroke="#000" stroke-width="2.2"/>
<line x1="90" y1="556" x2="809.3" y2="556" stroke="#000" stroke-width="2.4"/>
<line x1="91" y1="72.7" x2="101" y2="72.7" stroke="#000" stroke-width="1.8"/>
<line x1="91" y1="169.3" x2="101" y2="169.3" stroke="#000" stroke-width="1.8"/>
<line x1="91" y1="265.9" x2="101" y2="265.9" stroke="#000" stroke-width="1.8"/>
<line x1="91" y1="362.5" x2="101" y2="362.5" stroke="#000" stroke-width="1.8"/>
<line x1="91" y1="459.1" x2="101" y2="459.1" stroke="#000" stroke-width="1.8"/>
<path d="M763 0 L583 0 L583 1147 Q518 1085 412 1023 Q307 961 223 930 L223 1104 Q374 1175 487 1276 Q600 1377 647 1472 L763 1472 Z" transform="translate(50.72 81.25) scale(0.01562 -0.01562)"/>
<path d="M763 0 L583 0 L583 1147 Q518 1085 412 1023 Q307 961 223 930 L223 1104 Q374 1175 487 1276 Q600 1377 647 1472 L763 1472 Z" transform="translate(68.51 81.25) scale(0.01562 -0.01562)"/>
<path d="M763 0 L583 0 L583 1147 Q518 1085 412 1023 Q307 961 223 930 L223 1104 Q374 1175 487 1276 Q600 1377 647 1472 L763 1472 Z" transform="translate(920.72 81.25) scale(0.01562 -0.01562)"/>
<path d="M763 0 L583 0 L583 1147 Q518 1085 412 1023 Q307 961 223 930 L223 1104 Q374 1175 487 1276 Q600 1377 647 1472 L763 1472 Z" transform="translate(938.51 81.25) scale(0.01562 -0.01562)"/>
<text x="69.40" y="177.40" font-size="32">9</text>
<text x="939.40" y="177.40" font-size="32">9</text>
<text x="69.36" y="274.60" font-size="32">7</text>
<text x="939.36" y="274.60" font-size="32">7</text>
<text x="69.62" y="371.10" font-size="32">5</text>
<text x="939.62" y="371.10" font-size="32">5</text>
<text x="69.68" y="467.10" font-size="32">3</text>
<text x="939.68" y="467.10" font-size="32">3</text>
<path d="M763 0 L583 0 L583 1147 Q518 1085 412 1023 Q307 961 223 930 L223 1104 Q374 1175 487 1276 Q600 1377 647 1472 L763 1472 Z" transform="translate(68.72 564.60) scale(0.01562 -0.01562)"/>
<path d="M763 0 L583 0 L583 1147 Q518 1085 412 1023 Q307 961 223 930 L223 1104 Q374 1175 487 1276 Q600 1377 647 1472 L763 1472 Z" transform="translate(938.72 564.60) scale(0.01562 -0.01562)"/>
<line x1="961" y1="72.7" x2="1439" y2="72.7" stroke="#000" stroke-width="1.3"/>
<line x1="1439" y1="71.5" x2="1439" y2="554.6" stroke="#000" stroke-width="2"/>
<line x1="960.7" y1="71.5" x2="960.7" y2="554.6" stroke="#000" stroke-width="2.2"/>
<line x1="960" y1="553.8" x2="1440" y2="553.8" stroke="#000" stroke-width="1.6"/>
<line x1="961" y1="505.6" x2="964.8" y2="505.6" stroke="#000" stroke-width="1.8"/>
<line x1="961" y1="457.5" x2="968.0" y2="457.5" stroke="#000" stroke-width="1.8"/>
<line x1="961" y1="409.4" x2="964.8" y2="409.4" stroke="#000" stroke-width="1.8"/>
<line x1="961" y1="361.3" x2="968.0" y2="361.3" stroke="#000" stroke-width="1.8"/>
<line x1="961" y1="313.2" x2="964.8" y2="313.2" stroke="#000" stroke-width="1.8"/>
<line x1="961" y1="265.1" x2="968.0" y2="265.1" stroke="#000" stroke-width="1.8"/>
<line x1="961" y1="217.0" x2="964.8" y2="217.0" stroke="#000" stroke-width="1.8"/>
<line x1="961" y1="168.9" x2="968.0" y2="168.9" stroke="#000" stroke-width="1.8"/>
<line x1="961" y1="120.8" x2="964.8" y2="120.8" stroke="#000" stroke-width="1.8"/>
<line x1="961" y1="72.7" x2="968.0" y2="72.7" stroke="#000" stroke-width="1.8"/>
<line x1="1008.8" y1="553.8" x2="1008.8" y2="549.3" stroke="#000" stroke-width="1.8"/>
<line x1="1056.6" y1="553.8" x2="1056.6" y2="544.8" stroke="#000" stroke-width="1.8"/>
<line x1="1104.4" y1="553.8" x2="1104.4" y2="549.3" stroke="#000" stroke-width="1.8"/>
<line x1="1152.2" y1="553.8" x2="1152.2" y2="544.8" stroke="#000" stroke-width="1.8"/>
<line x1="1200.0" y1="553.8" x2="1200.0" y2="549.3" stroke="#000" stroke-width="1.8"/>
<line x1="1247.8" y1="553.8" x2="1247.8" y2="544.8" stroke="#000" stroke-width="1.8"/>
<line x1="1295.6" y1="553.8" x2="1295.6" y2="549.3" stroke="#000" stroke-width="1.8"/>
<line x1="1343.4" y1="553.8" x2="1343.4" y2="544.8" stroke="#000" stroke-width="1.8"/>
<line x1="1391.2" y1="553.8" x2="1391.2" y2="549.3" stroke="#000" stroke-width="1.8"/>
<text x="948.05" y="598.60" font-size="32">0</text>
<text x="1043.57" y="598.60" font-size="32">4</text>
<text x="1139.61" y="598.60" font-size="32">8</text>
<path d="M763 0 L583 0 L583 1147 Q518 1085 412 1023 Q307 961 223 930 L223 1104 Q374 1175 487 1276 Q600 1377 647 1472 L763 1472 Z" transform="translate(1222.02 598.60) scale(0.01562 -0.01562)"/>
<text x="1239.81" y="598.60" font-size="32">2</text>
<path d="M763 0 L583 0 L583 1147 Q518 1085 412 1023 Q307 961 223 930 L223 1104 Q374 1175 487 1276 Q600 1377 647 1472 L763 1472 Z" transform="translate(1318.72 598.60) scale(0.01562 -0.01562)"/>
<text x="1336.51" y="598.60" font-size="32">6</text>
<text x="1413.69" y="598.60" font-size="32">20</text>
<path d="M984.60 392.80 L1008.60 307.80" fill="none" stroke="#777" stroke-width="1.3" stroke-dasharray="6 7" stroke-dashoffset="0.00"/>
<path d="M1008.60 307.80 L1056.80 219.50" fill="none" stroke="#3a3a3a" stroke-width="1.3" stroke-dasharray="6 7" stroke-dashoffset="-88.32"/>
<path d="M1056.80 219.50 L1200.20 104.00" fill="none" stroke="#333" stroke-width="1.3" stroke-dasharray="6 7" stroke-dashoffset="-188.92"/>
<path d="M1200.20 104.00 L1406.00 100.73" fill="none" stroke="#8a8a8a" stroke-width="1.3" stroke-dasharray="6 7" stroke-dashoffset="-373.05"/>
<path d="M1406.00 100.73 L1439.00 100.20" fill="none" stroke="#222" stroke-width="1.3" stroke-dasharray="6 7" stroke-dashoffset="-578.88"/>
<clipPath id="cb"><rect x="961" y="72.7" width="478" height="481"/></clipPath>
<rect x="979.1" y="387.3" width="11" height="11" fill="#1866de" clip-path="url(#cb)"/>
<rect x="1003.1" y="302.3" width="11" height="11" fill="#1866de" clip-path="url(#cb)"/>
<rect x="1051.3" y="214.0" width="11" height="11" fill="#1866de" clip-path="url(#cb)"/>
<rect x="1194.7" y="98.5" width="11" height="11" fill="#1866de" clip-path="url(#cb)"/>
<rect x="1433.5" y="94.7" width="11" height="11" fill="#1866de" clip-path="url(#cb)"/>
<text x="13" y="25.3" font-size="32" font-weight="bold">A</text>
<text x="882.5" y="25.6" font-size="32.5" font-weight="bold">B</text>
<text x="356.9" y="47.4" font-size="32">Fe<tspan font-size="19" dy="11.5">0.5</tspan><tspan dy="-11.5">Ni</tspan><tspan font-size="19" dy="11.5">0.5</tspan><tspan dy="-11.5">WO</tspan><tspan font-size="19" dy="11.5">4</tspan></text>
<text x="740" y="111.8" font-size="32">NO<tspan font-size="20" dy="10.5">2</tspan></text>
<text x="702" y="164.2" font-size="32">200</text>
<ellipse cx="771.7" cy="146.8" rx="4.3" ry="4.1" fill="none" stroke="#000" stroke-width="1.7"/>
<path d="M796.6 145.0 A10.8 11.6 0 1 0 796.9 160.6 L796.1 159.3 A8.5 10.1 0 1 1 795.9 146.2 Z" fill="#000"/>
<line x1="796.4" y1="142.0" x2="796.4" y2="147.6" stroke="#000" stroke-width="1.5"/>
<text x="68.97" y="614.00" font-size="32.4">20&#160;ppm</text>
<path d="M763 0 L583 0 L583 1147 Q518 1085 412 1023 Q307 961 223 930 L223 1104 Q374 1175 487 1276 Q600 1377 647 1472 L763 1472 Z" transform="translate(219.27 614.00) scale(0.01582 -0.01582)"/>
<text x="237.29" y="614.00" font-size="32.4">0&#160;ppm</text>
<text x="381.06" y="614.00" font-size="32.4">4&#160;ppm</text>
<text x="529.77" y="614.00" font-size="32.4">2&#160;ppm</text>
<path d="M763 0 L583 0 L583 1147 Q518 1085 412 1023 Q307 961 223 930 L223 1104 Q374 1175 487 1276 Q600 1377 647 1472 L763 1472 Z" transform="translate(679.87 614.00) scale(0.01582 -0.01582)"/>
<text x="697.89" y="614.00" font-size="32.4">&#160;ppm</text>
<text transform="translate(26.9,439.4) rotate(-90)" font-size="32">Response (R<tspan font-size="20" dy="10.5">g</tspan><tspan dy="-10.5">/R</tspan><tspan font-size="20" dy="11" dx="1.2">a</tspan><tspan dy="-11">)</tspan></text>
<text transform="translate(896.9,439.4) rotate(-90)" font-size="32">Response (R<tspan font-size="20" dy="10.5">g</tspan><tspan dy="-10.5">/R</tspan><tspan font-size="20" dy="11" dx="1.2">a</tspan><tspan dy="-11">)</tspan></text>
<text x="1011.5" y="468.9" font-size="32">LOD= 46.4 ppb</text>
<text x="1022" y="657.4" font-size="32" letter-spacing="0.1">NO<tspan font-size="19.5" dy="11.2">2</tspan><tspan dy="-11.2"> concentration (ppm)</tspan></text>
</svg>
</body></html>
